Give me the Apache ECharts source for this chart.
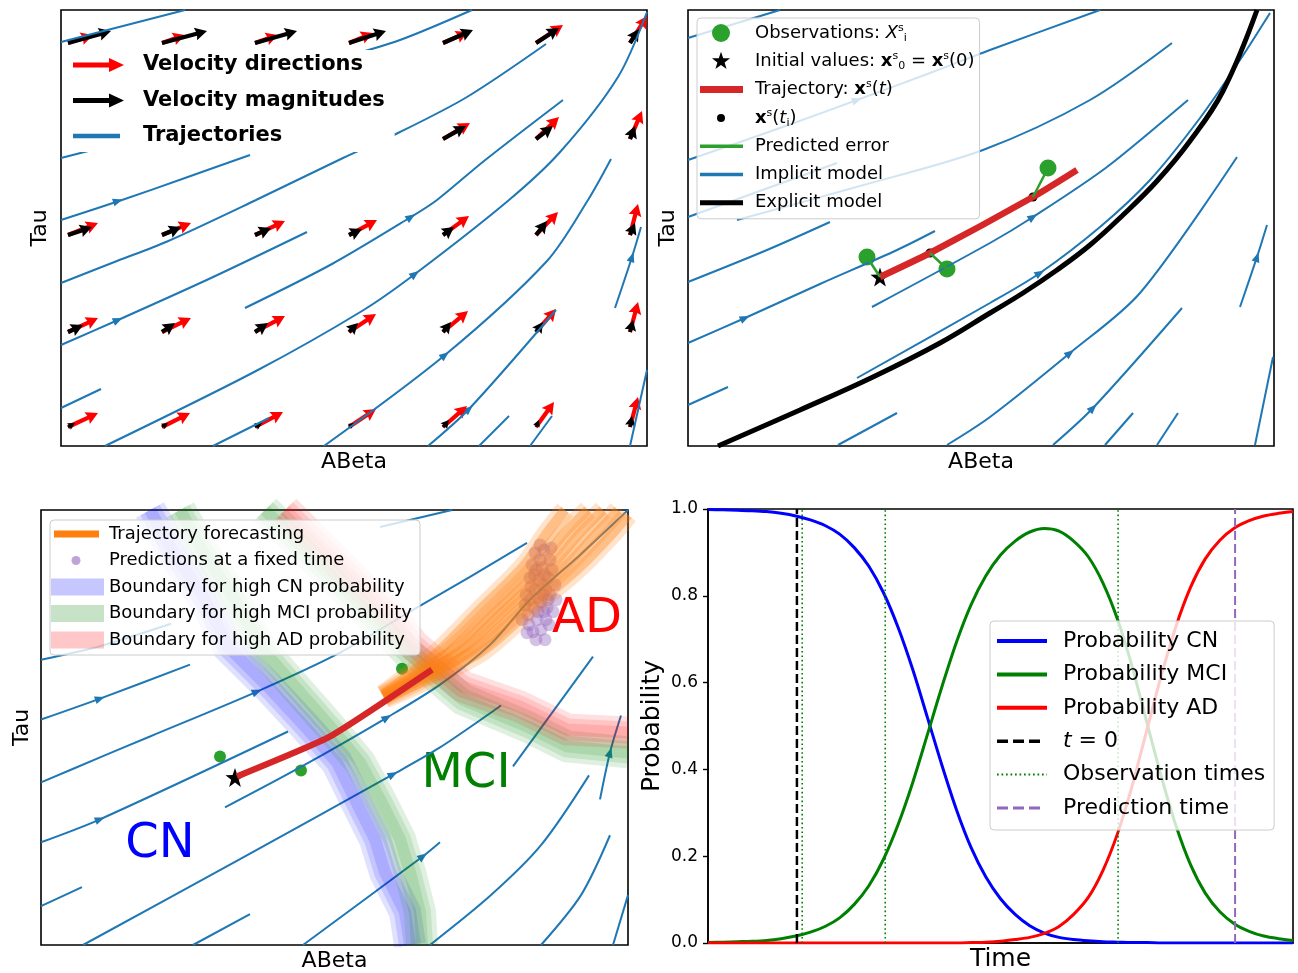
<!DOCTYPE html>
<html><head><meta charset="utf-8">
<script src="https://cdn.jsdelivr.net/npm/echarts@6/dist/echarts.min.js"></script>
<style>html,body{margin:0;padding:0;background:#fff}#c{width:1298px;height:973px}</style>
</head><body><div id="c"></div>
<script>
// ---------------- DATA ----------------
// Panel 1 (ABeta/Tau arbitrary units)
const p1Streams = [
  [[0,404],[124,436]],
  [[279,388],[339,406],[411,436]],
  [[0,288],[39,298]],
  [[0,226],[61,246],[124,268],[189,291]],
  [[0,163],[56,185],[105,204],[195,246],[282,288],[339,314],[406,349],[485,402]],
  [[0,101],[57,126],[150,168],[246,214]],
  [[184,138],[271,182],[350,229],[376,246],[423,285],[502,346]],
  [[0,38],[40,57]],
  [[44,0],[195,75],[301,135],[354,172],[448,246],[500,295],[557,369],[586,434]],
  [[152,0],[208,28]],
  [[263,0],[384,91],[486,185],[527,246],[550,287]],
  [[367,0],[408,37],[495,136]],
  [[418,0],[448,30]],
  [[469,0],[491,30]],
  [[554,138],[571,189],[580,219]],
  [[569,0],[586,76]]
];
const p1StreamArrows = [[57,245,1,0.33],[57,126,1,0.44],[350,229,1,0.65],[354,172,1,0.75],[384,91,1,0.8],[408,37,1,0.9],[571,189,0.33,1]];
const quiverX = [7,101,194,288,382,475,569];
const quiverY = [403,307,211,114,19];
const redDir = [
  [[25,8],[23,8],[23,8],[24,10],[25,11],[27,18],[17,27]],
  [null,null,null,[24,12],[27,16],[23,22],[12,28]],
  [[30,12],[29,12],[30,14],[28,15],[26,19],[22,23],[8,31]],
  [[30,14],[29,14],[30,16],[27,18],[25,21],[20,23],[8,30]],
  [[30,14],[28,14],[28,15],[27,18],[24,21],[18,25],[8,30]]
];
const blackMag = [
  [[43,12],[45,12],[42,12],[37,12],[30,13],[23,15],[9,14]],
  [null,null,null,[29,15],[23,13],[17,13],[5,13]],
  [[24,8],[19,8],[16,7],[13,6],[11,8],[11,14],[5,12]],
  [[15,7],[13,9],[13,9],[9,9],[8,10],[7,10],[3,12]],
  [[7,4],[6,4],[7,4],[5,4],[6,7],[3,7],[2,11]]
];

// Panel 2
const p2Streams = [
  [[0,408],[92,436]],
  [[0,286],[92,318],[169,346],[242,373],[302,396],[412,436]],
  [[0,229],[149,283]],
  [[49,226],[172,260],[295,296],[402,346],[484,403]],
  [[0,164],[79,196],[142,224]],
  [[0,103],[57,128],[132,162],[209,196],[247,215]],
  [[0,41],[40,59]],
  [[184,139],[302,203],[345,229],[419,279],[500,346]],
  [[169,68],[302,143],[352,173],[412,219],[462,266],[512,328],[552,386],[582,433]],
  [[150,1],[209,33]],
  [[259,1],[302,29],[382,93],[452,153],[549,289]],
  [[365,1],[405,38],[494,138]],
  [[417,1],[445,33]],
  [[469,1],[490,33]],
  [[552,139],[569,189],[579,221]],
  [[567,1],[585,89]]
];
const p2StreamArrows = [[57,128,1,0.45],[345,229,1,0.65],[352,173,1,0.6],[382,93,1,0.8],[405,38,1,1],[569,189,0.33,1],[169,346,1,0.36]];
const explicitModel = [[30,0],[112,36],[185,69],[252,103],[302,133],[335,153],[369,176],[402,201],[435,231],[469,265],[502,305],[535,355],[569,436]];
const trajectory2 = [[192,169],[242,193],[345,249],[389,276]];
const predicted2 = [[192,169],[242,193],[345,249]];
const observations2 = [[179,189],[259,177],[360,278]];

// Panel 3
const p3Streams = [
  [[0,286],[57,299],[130,322]],
  [[0,226],[59,247],[149,281]],
  [[0,163],[59,188],[109,209],[216,254],[299,293],[372,336],[429,369],[486,403]],
  [[0,103],[59,126],[247,214]],
  [[184,138],[259,178],[346,228],[399,261],[449,301],[489,346],[539,391],[587,436]],
  [[0,39],[41,58]],
  [[42,0],[199,86],[352,171],[399,198],[460,240]],
  [[152,0],[209,31]],
  [[262,0],[382,89],[399,103]],
  [[339,419],[411,436]],
  [[472,179],[552,289]],
  [[559,146],[569,193],[580,230]],
  [[389,0],[450,50],[500,100],[548,170]],
  [[500,0],[540,50],[569,110]],
  [[572,0],[587,50]]
];
const p3StreamArrows = [[59,247,1,0.36],[216,254,1,0.42],[59,126,1,0.4],[346,228,1,0.6],[352,171,1,0.55],[382,89,1,0.75],[569,193,0.3,1]];
const boundaryCN = [[109,436],[134,391],[164,346],[187,299],[227,259],[264,219],[296,183],[314,146],[334,106],[344,73],[364,33],[369,0]];
const boundaryMCI_a = [[139,436],[164,391],[194,346],[219,299],[254,259],[289,219],[319,183],[339,146],[359,106],[369,73],[379,33],[381,0]];
const boundaryMCI_b = [[224,436],[259,401],[299,361],[334,326],[369,291],[422,246],[486,219],[526,199],[587,193]];
const boundaryAD = [[244,436],[279,401],[319,361],[354,326],[372,301],[422,259],[479,239],[526,216],[587,213]];
const forecastTrajs = [
  [[342,251],[396,293],[439,336],[482,379],[506,413],[524,436]],
  [[342,250],[407,293],[453,336],[496,379],[524,413],[547,436]],
  [[342,249],[417,293],[464,336],[510,379],[539,413],[562,436]],
  [[343,248],[428,293],[477,336],[524,379],[556,413],[577,436]],
  [[344,247],[439,293],[489,336],[539,379],[572,413],[587,431]]
];
const predictionsCloud = [
  [499,386],[504,371],[494,356],[507,346],[497,334],[502,361],[489,346],[511,376],[493,371],[505,326],
  [487,331],[500,316],[495,306],[509,351],[484,341],[503,396],[491,381],[514,361],[497,348],[506,338],
  [488,321],[501,378],[494,393],[509,386],[492,314],[504,306],[481,326],[515,346],[498,366],[490,359],
  [507,368],[496,326],[485,351],[512,334],[499,401],[505,356],[493,338],[500,344],[508,321],[489,368],
  [503,334],[495,376],[510,398],[486,313],[502,351]
];
const trajectory3 = [[196,169],[289,209],[391,276]];
const initialValue3 = [[194,168]];
const observations3 = [[179,189],[260,175],[361,277]];
const regionNames = ['CN','MCI','AD'];
const regionPos = [[119,101],[425,171],[546,326]];

// Panel 4
const timeT  = [0,2.5,5,7.5,10,12.5,15,17.5,20,22.5,25,27.5,30,32.5,35,37.5,40,42.5,45,47.5,50,52.5,55,57.5,60,62.5,65,67.5,70,72.5,75,77.5,80,82.5,85,87.5,90,92.5,95,97.5,100];
const probCN = [0.999,0.998,0.997,0.996,0.994,0.990,0.984,0.975,0.962,0.942,0.911,0.868,0.807,0.727,0.630,0.520,0.409,0.306,0.219,0.152,0.102,0.066,0.040,0.023,0.013,0.008,0.005,0.003,0.002,0.001,0.001,0,0,0,0,0,0,0,0,0,0];
const probMCI= [0.001,0.002,0.003,0.004,0.006,0.010,0.016,0.025,0.038,0.058,0.089,0.132,0.193,0.273,0.370,0.480,0.591,0.694,0.780,0.846,0.894,0.926,0.947,0.955,0.949,0.926,0.890,0.830,0.746,0.637,0.509,0.383,0.270,0.180,0.115,0.072,0.044,0.027,0.016,0.010,0.006];
const probAD = [0,0,0,0,0,0,0,0,0,0,0,0,0,0,0,0,0,0,0.001,0.002,0.004,0.008,0.013,0.022,0.038,0.066,0.105,0.167,0.252,0.362,0.490,0.617,0.730,0.820,0.885,0.928,0.956,0.973,0.984,0.990,0.994];
const tZero = 15.2;
const obsTimes = [16.1,30.3,70.1];
const predTime = 90.1;

// ---------------- HELPERS (style only) ----------------
const FONT = 'DejaVu Sans';
const BLUE = '#1f77b4';
function box(W,H){return 'M0,0 M'+W+','+H+' ';}
function barIcon(W,H,x0,x1,y0,y1){return 'path://'+box(W,H)+'M'+x0+','+y0+' L'+x1+','+y0+' L'+x1+','+y1+' L'+x0+','+y1+' Z';}
function circIcon(W,H,cx,cy,r){return 'path://'+box(W,H)+'M'+(cx-r)+','+cy+' A'+r+','+r+' 0 1,0 '+(cx+r)+','+cy+' A'+r+','+r+' 0 1,0 '+(cx-r)+','+cy+' Z';}
function starPts(cx,cy,R,r){let s='';for(let k=0;k<10;k++){const a=(-90+k*36)*Math.PI/180;const rr=k%2?r:R;s+=(k?' L':'M')+(cx+rr*Math.cos(a)).toFixed(2)+','+(cy+rr*Math.sin(a)).toFixed(2);}return s+' Z';}
function dashIcon(W,H,y0,y1,dash,gap,total){let s='path://'+box(W,H);for(let x=0;x<total-0.1;x+=dash+gap){const x1=Math.min(x+dash,total);s+='M'+x+','+y0+' L'+x1+','+y0+' L'+x1+','+y1+' L'+x+','+y1+' Z ';}return s;}
const STAR = 'path://'+starPts(50,50,50,20);

function streamArrow(color){
  return function(params, api){
    const p = api.coord([api.value(0), api.value(1)]);
    const q = api.coord([api.value(0)+api.value(2)*10, api.value(1)+api.value(3)*10]);
    const a = Math.atan2(q[1]-p[1], q[0]-p[0]); const c=Math.cos(a), s=Math.sin(a);
    const L=10, W=4;
    const tip=[p[0]+c*L*0.5, p[1]+s*L*0.5], b=[p[0]-c*L*0.5, p[1]-s*L*0.5];
    return {type:'polygon', shape:{points:[tip,[b[0]-s*W,b[1]+c*W],[b[0]+s*W,b[1]-c*W]]}, style:{fill:color}};
  };
}
function quiver(color){
  return function(params, api){
    const p = api.coord([api.value(0), api.value(1)]);
    const q = api.coord([api.value(0)+api.value(2), api.value(1)+api.value(3)]);
    const dx=q[0]-p[0], dy=q[1]-p[1], len=Math.hypot(dx,dy); const c=dx/len, s=dy/len;
    let w=2.1, hw=6.5, hl=12; const m=hl*1.15;
    if(len<m){const k=len/m; w*=k; hw*=k; hl*=k;}
    const P=(a,n)=>[p[0]+c*a-s*n, p[1]+s*a+c*n];
    return {type:'polygon', shape:{points:[P(0,-w),P(len-hl*0.9,-w),P(len-hl,-hw),P(len,0),P(len-hl,hw),P(len-hl*0.9,w),P(0,w)]}, style:{fill:color}};
  };
}
function streamSeries(list, name, gi, color, width){
  return list.map(pts=>({type:'line', name:name, xAxisIndex:gi, yAxisIndex:gi, data:pts, smooth:0.3, symbol:'none', showSymbol:false, silent:true,
    color:color, itemStyle:{color:color}, lineStyle:{color:color, width:width}}));
}
function quiverData(dirs){
  const out=[]; for(let r=0;r<quiverY.length;r++) for(let c=0;c<quiverX.length;c++){const d=dirs[r][c]; if(d) out.push([quiverX[c],quiverY[r],d[0],d[1]]);} return out;
}

// ---------------- SERIES ----------------
const series = [];
// Panel 1
series.push(...streamSeries(p1Streams,'Trajectories',0,BLUE,2));
series.push({type:'custom', name:'p1arrows', xAxisIndex:0, yAxisIndex:0, data:p1StreamArrows, encode:{x:0,y:1}, renderItem:streamArrow(BLUE), silent:true});
series.push({type:'custom', name:'Velocity directions', xAxisIndex:0, yAxisIndex:0, data:quiverData(redDir), encode:{x:0,y:1}, itemStyle:{color:'#ff0000'}, renderItem:quiver('#ff0000'), silent:true});
series.push({type:'custom', name:'Velocity magnitudes', xAxisIndex:0, yAxisIndex:0, data:quiverData(blackMag), encode:{x:0,y:1}, itemStyle:{color:'#000000'}, renderItem:quiver('#000000'), silent:true});
// Panel 2
series.push(...streamSeries(p2Streams,'Implicit model',1,BLUE,2));
series.push({type:'custom', name:'p2arrows', xAxisIndex:1, yAxisIndex:1, data:p2StreamArrows, encode:{x:0,y:1}, renderItem:streamArrow(BLUE), silent:true});
series.push({type:'line', name:'Explicit model', xAxisIndex:1, yAxisIndex:1, data:explicitModel, smooth:0.4, symbol:'none', color:'#000', itemStyle:{color:'#000'}, lineStyle:{color:'#000', width:5}, silent:true});
series.push({type:'line', name:'Trajectory', xAxisIndex:1, yAxisIndex:1, data:trajectory2, smooth:0.2, symbol:'none', color:'#d62728', itemStyle:{color:'#d62728'}, lineStyle:{color:'#d62728', width:6.5}, silent:true});
observations2.forEach((o,i)=>series.push({type:'line', name:'Predicted error', xAxisIndex:1, yAxisIndex:1, data:[o, predicted2[i]], symbol:'none', color:'#2ca02c', itemStyle:{color:'#2ca02c'}, lineStyle:{color:'#2ca02c', width:2.5}, silent:true}));
series.push({type:'scatter', name:'Observations', xAxisIndex:1, yAxisIndex:1, data:observations2, symbol:'circle', symbolSize:17, itemStyle:{color:'#2ca02c', opacity:1}, silent:true});
series.push({type:'scatter', name:'xsti', xAxisIndex:1, yAxisIndex:1, data:predicted2.slice(1), symbol:'circle', symbolSize:9, itemStyle:{color:'#000', opacity:1}, silent:true});
series.push({type:'scatter', name:'Initial values', xAxisIndex:1, yAxisIndex:1, data:[predicted2[0]], symbol:STAR, symbolSize:19, itemStyle:{color:'#000', opacity:1}, silent:true});
// Panel 3
series.push(...streamSeries(p3Streams,'p3streams',2,BLUE,2));
series.push({type:'custom', name:'p3arrows', xAxisIndex:2, yAxisIndex:2, data:p3StreamArrows, encode:{x:0,y:1}, renderItem:streamArrow(BLUE), silent:true});
const bandDefs = [
  ['Boundary for high CN probability', [boundaryCN], 'rgba(0,0,255,0.22)', 'rgba(0,0,255,0.12)'],
  ['Boundary for high MCI probability', [boundaryMCI_a, boundaryMCI_b], 'rgba(0,128,0,0.22)', 'rgba(0,128,0,0.12)'],
  ['Boundary for high AD probability', [boundaryAD], 'rgba(255,0,0,0.22)', 'rgba(255,0,0,0.12)']
];
bandDefs.forEach(([nm, paths, col, col2])=>{
  paths.forEach(pts=>{
    [32,22,12].forEach((w)=>{
      series.push({type:'line', name:nm, xAxisIndex:2, yAxisIndex:2, data:pts, symbol:'none', color:col, itemStyle:{color:col}, lineStyle:{color:col2, width:w, join:'miter'}, silent:true});
    });
  });
});
forecastTrajs.forEach(pts=>{
  [[20,'rgba(255,127,14,0.22)'],[10,'rgba(255,127,14,0.35)']].forEach(([w,c])=>{
    series.push({type:'line', name:'Trajectory forecasting', xAxisIndex:2, yAxisIndex:2, data:pts, smooth:0.3, symbol:'none', color:'#ff7f0e', itemStyle:{color:'#ff7f0e'}, lineStyle:{color:c, width:w}, silent:true});
  });
});
series.push({type:'scatter', name:'Predictions at a fixed time', xAxisIndex:2, yAxisIndex:2, data:predictionsCloud, symbolSize:13, itemStyle:{color:'rgba(148,103,189,0.5)'}, silent:true});
series.push({type:'line', name:'traj3', xAxisIndex:2, yAxisIndex:2, data:trajectory3, smooth:0.15, symbol:'none', lineStyle:{color:'#d62728', width:6.5}, silent:true});
series.push({type:'scatter', name:'obs3', xAxisIndex:2, yAxisIndex:2, data:observations3, symbolSize:12, itemStyle:{color:'#2ca02c', opacity:1}, silent:true});
series.push({type:'scatter', name:'init3', xAxisIndex:2, yAxisIndex:2, data:initialValue3, symbol:STAR, symbolSize:19, itemStyle:{color:'#000', opacity:1}, silent:true});
const regionColors = ['#0000ff','#008000','#ff0000'];
series.push({type:'custom', name:'regions', xAxisIndex:2, yAxisIndex:2, silent:true, encode:{x:0,y:1},
  data: regionPos.map((p,i)=>[p[0],p[1],i]),
  renderItem:(params, api)=>{
    const p = api.coord([api.value(0), api.value(1)]); const i = api.value(2);
    return {type:'text', x:p[0], y:p[1], style:{text:regionNames[i], fill:regionColors[i], fontSize:48, fontFamily:FONT, align:'center', verticalAlign:'middle'}};
  }});
// Panel 4
const pl = (arr)=>timeT.map((t,i)=>[t,arr[i]]);
[['Probability CN',probCN,'#0000ff'],['Probability MCI',probMCI,'#008000'],['Probability AD',probAD,'#ff0000']].forEach(([nm,arr,c])=>{
  series.push({type:'line', name:nm, xAxisIndex:3, yAxisIndex:3, data:pl(arr), smooth:0.3, symbol:'none', color:c, itemStyle:{color:c}, lineStyle:{color:c, width:3}, silent:true});
});
series.push({type:'line', name:'t = 0', xAxisIndex:3, yAxisIndex:3, data:[[tZero,0],[tZero,1]], symbol:'none', color:'#000', itemStyle:{color:'#000'}, lineStyle:{color:'#000', width:2.5, type:[9,4]}, silent:true});
obsTimes.forEach(t=>series.push({type:'line', name:'Observation times', xAxisIndex:3, yAxisIndex:3, data:[[t,0],[t,1]], symbol:'none', color:'#008000', itemStyle:{color:'#008000'}, lineStyle:{color:'#008000', width:1.6, type:[1.6,2.8]}, silent:true}));
series.push({type:'line', name:'Prediction time', xAxisIndex:3, yAxisIndex:3, data:[[predTime,0],[predTime,1]], symbol:'none', color:'#9467bd', itemStyle:{color:'#9467bd'}, lineStyle:{color:'#9467bd', width:2, type:[9,4]}, silent:true});

// ---------------- AXES ----------------
const gridBase = {show:true, borderColor:'#000', borderWidth:1.6, backgroundColor:'transparent', containLabel:false};
const grids = [
  Object.assign({left:61, top:10, width:586, height:436}, gridBase),
  Object.assign({left:688, top:10, width:586, height:436}, gridBase),
  Object.assign({left:41, top:510, width:587, height:436}, gridBase),
  Object.assign({left:708, top:509, width:585, height:435}, gridBase)
];
const nameStyle = (fs)=>({fontFamily:FONT, fontSize:fs, color:'#000'});
const hidden = {axisLine:{show:false}, axisTick:{show:false}, axisLabel:{show:false}, splitLine:{show:false}};
const xAxes = [
  Object.assign({gridIndex:0, type:'value', min:0, max:586, name:'ABeta', nameLocation:'middle', nameGap:5, nameTextStyle:nameStyle(22)}, hidden),
  Object.assign({gridIndex:1, type:'value', min:0, max:586, name:'ABeta', nameLocation:'middle', nameGap:5, nameTextStyle:nameStyle(22)}, hidden),
  Object.assign({gridIndex:2, type:'value', min:0, max:587, name:'ABeta', nameLocation:'middle', nameGap:5, nameTextStyle:nameStyle(22)}, hidden),
  {gridIndex:3, type:'value', min:0, max:100, name:'Time', nameLocation:'middle', nameGap:4, nameTextStyle:nameStyle(25),
   axisLine:{show:true, lineStyle:{color:'#000', width:1.6}}, axisTick:{show:false}, axisLabel:{show:false}, splitLine:{show:false}}
];
const yAxes = [
  Object.assign({gridIndex:0, type:'value', min:0, max:436, name:'Tau', nameLocation:'middle', nameGap:10, nameTextStyle:nameStyle(22)}, hidden),
  Object.assign({gridIndex:1, type:'value', min:0, max:436, name:'Tau', nameLocation:'middle', nameGap:9, nameTextStyle:nameStyle(22)}, hidden),
  Object.assign({gridIndex:2, type:'value', min:0, max:436, name:'Tau', nameLocation:'middle', nameGap:8, nameTextStyle:nameStyle(22)}, hidden),
  {gridIndex:3, type:'value', min:0, max:1, interval:0.2, name:'Probability', nameLocation:'middle', nameGap:43, nameTextStyle:nameStyle(25),
   axisLine:{show:true, lineStyle:{color:'#000', width:1.6}}, axisTick:{show:true, length:5, lineStyle:{color:'#000', width:1.4}},
   axisLabel:{formatter:(v)=>v.toFixed(1), fontFamily:FONT, fontSize:17, color:'#000', margin:10}, splitLine:{show:false}}
];

// ---------------- LEGENDS ----------------
const sup = {fontSize:11, lineHeight:12, verticalAlign:'top', fontFamily:FONT, color:'#000'};
const sub = {fontSize:11, lineHeight:12, verticalAlign:'bottom', fontFamily:FONT, color:'#000'};
const l2Text = {
  'Observations':'Observations: {mi|X}{sup|s}{sub|i}',
  'Initial values':'Initial values: {mb|x}{sup|s}{sub|0} = {mb|x}{sup|s}(0)',
  'Trajectory':'Trajectory: {mb|x}{sup|s}({mi|t})',
  'xsti':'{mb|x}{sup|s}({mi|t}{sub|i})'
};
const legends = [
  {left:68, top:50, orient:'vertical', padding:[3,10,4,5], itemWidth:65, itemHeight:24, itemGap:11.5, backgroundColor:'#fff', borderWidth:0,
   selectedMode:false, itemStyle:{borderWidth:0},
   textStyle:{fontFamily:FONT, fontSize:21, fontWeight:'bold', color:'#000', lineHeight:24},
   data:[
     {name:'Velocity directions', icon:'path://'+box(65,24)+'M0,9.5 L36,9.5 L36,5 L51,12 L36,19 L36,14.5 L0,14.5 Z'},
     {name:'Velocity magnitudes', icon:'path://'+box(65,24)+'M0,9.5 L36,9.5 L36,5 L51,12 L36,19 L36,14.5 L0,14.5 Z'},
     {name:'Trajectories', icon:barIcon(65,24,0,47,9.7,14.3)}
   ]},
  {left:697, top:18, orient:'vertical', padding:[4.5,5,5.5,3], itemWidth:50, itemHeight:21, itemGap:7.3,
   backgroundColor:'rgba(255,255,255,0.8)', borderColor:'#cccccc', borderWidth:1, borderRadius:4,
   selectedMode:false, itemStyle:{borderWidth:0},
   formatter:(n)=>l2Text[n]||n,
   textStyle:{fontFamily:FONT, fontSize:18, color:'#000', lineHeight:21,
     rich:{mi:{fontStyle:'italic', fontSize:18, fontFamily:FONT, color:'#000', lineHeight:21}, mb:{fontWeight:'bold', fontSize:18, fontFamily:FONT, color:'#000', lineHeight:21}, sup:sup, sub:sub}},
   data:[
     {name:'Observations', icon:circIcon(50,21,21,10.5,9)},
     {name:'Initial values', icon:'path://'+box(50,21)+starPts(21,10.5,9.5,3.8)},
     {name:'Trajectory', icon:barIcon(50,21,0,43,7,14)},
     {name:'xsti', icon:circIcon(50,21,21,10.5,4)},
     {name:'Predicted error', icon:barIcon(50,21,0,43,8.8,12.2)},
     {name:'Implicit model', icon:barIcon(50,21,0,43,8.8,12.2)},
     {name:'Explicit model', icon:barIcon(50,21,0,43,8,13)}
   ]},
  {left:50, top:520, orient:'vertical', padding:[3.5,8,4.5,1], itemWidth:53, itemHeight:21, itemGap:5.5,
   backgroundColor:'rgba(255,255,255,0.8)', borderColor:'#cccccc', borderWidth:1, borderRadius:4,
   selectedMode:false, itemStyle:{borderWidth:0},
   textStyle:{fontFamily:FONT, fontSize:18, color:'#000', lineHeight:21},
   data:[
     {name:'Trajectory forecasting', icon:barIcon(53,21,3,48,7,14), itemStyle:{color:'#ff7f0e', borderWidth:0, opacity:1}},
     {name:'Predictions at a fixed time', icon:circIcon(53,21,25,10.5,4.5), itemStyle:{color:'rgba(148,103,189,0.75)', borderWidth:0}},
     {name:'Boundary for high CN probability', icon:barIcon(53,21,0,53,2,19)},
     {name:'Boundary for high MCI probability', icon:barIcon(53,21,0,53,2,19)},
     {name:'Boundary for high AD probability', icon:barIcon(53,21,0,53,2,19)}
   ]},
  {left:990, top:621, orient:'vertical', padding:[7,9,9,7], itemWidth:61, itemHeight:26, itemGap:7.4,
   backgroundColor:'rgba(255,255,255,0.8)', borderColor:'#cccccc', borderWidth:1, borderRadius:4,
   selectedMode:false, itemStyle:{borderWidth:0},
   formatter:(n)=> n==='t = 0' ? '{mi|t} = 0' : n,
   textStyle:{fontFamily:FONT, fontSize:22, color:'#000', lineHeight:26,
     rich:{mi:{fontStyle:'italic', fontSize:22, fontFamily:FONT, color:'#000', lineHeight:26}}},
   data:[
     {name:'Probability CN', icon:barIcon(61,26,0,50,11,15)},
     {name:'Probability MCI', icon:barIcon(61,26,0,50,11,15)},
     {name:'Probability AD', icon:barIcon(61,26,0,50,11,15)},
     {name:'t = 0', icon:dashIcon(61,26,11.2,14.8,11,5,48)},
     {name:'Observation times', icon:dashIcon(61,26,12,14,1.7,2.8,50)},
     {name:'Prediction time', icon:dashIcon(61,26,11.5,14.5,11,5,48)}
   ]}
];

const chart = echarts.init(document.getElementById('c'), null, {renderer:'canvas'});
chart.setOption({animation:false, backgroundColor:'#fff', grid:grids, xAxis:xAxes, yAxis:yAxes, legend:legends, series:series});
</script></body></html>
